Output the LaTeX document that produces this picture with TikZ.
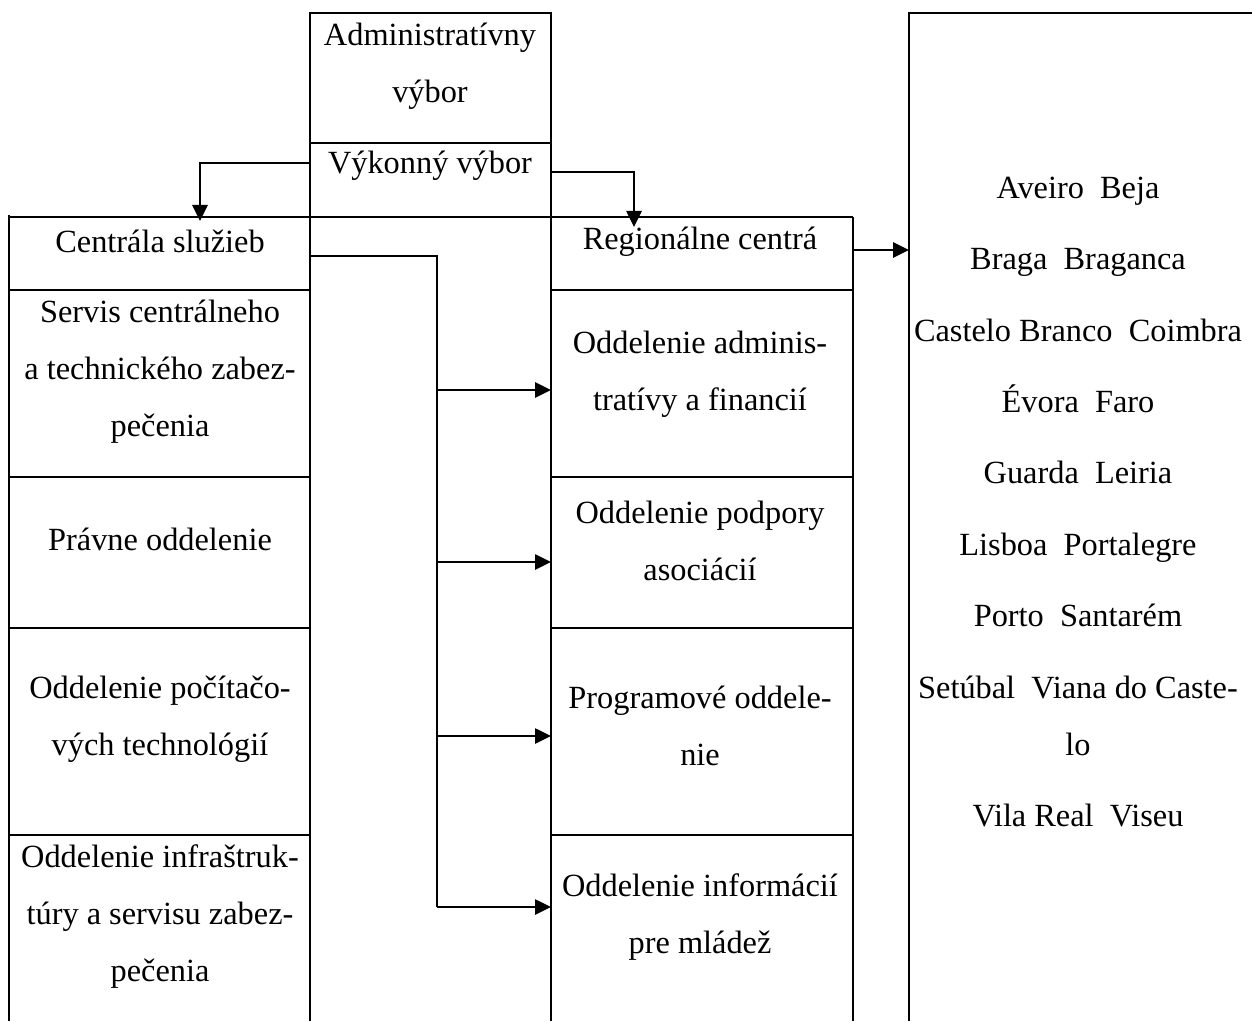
\documentclass[tikz,border=0pt]{standalone}
\usepackage{fontspec}
\setmainfont{Liberation Serif}
\usetikzlibrary{arrows.meta,positioning,calc}
\tikzset{
  cell/.style={align=center, font=\fontsize{9.2}{16.2}\selectfont, inner sep=0pt},
  rule/.style={line width=0.75pt},
  arr/.style={line width=0.75pt, -{Triangle[length=1.6mm,width=1.5mm]}},
}

\begin{document}
\begin{tikzpicture}[x=0.01cm, y=-0.01cm]
        \useasboundingbox (0,0) rectangle (1252,1021);
        % table lines
        \draw[rule] (310,1021) -- (310,13) -- (551,13) -- (551,1021);
        \draw[rule] (310,143) -- (551,143);
        \draw[rule] (9,217) -- (853,217);
        \draw[line width=0.6pt] (9,215) -- (9,1021);
        \draw[rule] (853,217) -- (853,1021);
        \draw[rule] (909,1021) -- (909,13) -- (1252,13);
        \foreach \y in {290,477,628,835} {
          \draw[rule] (9,\y) -- (310,\y);
          \draw[rule] (551,\y) -- (853,\y);
        }
        % cells
        \node[cell] (admin) at (430,66) {Administratívny\\výbor};
        \node[cell] (vykonny) at (430,166) {Výkonný výbor};
        \node[cell] (centrala) at (160,241) {Centrála služieb};
        \node[cell] (servis) at (160,372) {Servis centrálneho\\a technického zabez-\\pečenia};
        \node[cell] (pravne) at (160,539) {Právne oddelenie};
        \node[cell] (pocitac) at (160,719) {Oddelenie počítačo-\\vých technológií};
        \node[cell] (infra) at (160,917) {Oddelenie infraštruk-\\túry a servisu zabez-\\pečenia};
        \node[cell] (regional) at (700,242) {Regionálne centrá};
        \node[cell] (adminfin) at (700,374) {Oddelenie adminis-\\tratívy a financií};
        \node[cell] (podpora) at (700,541) {Oddelenie podpory\\asociácií};
        \node[cell] (program) at (700,726) {Programové oddele-\\nie};
        \node[cell] (info) at (700,917) {Oddelenie informácií\\pre mládež};
        \node[cell] (kraje) at (1078,502) {Aveiro\ \ Beja\\[4.1pt]
          Braga\ \ Braganca\\[4.1pt]
          Castelo Branco\ \ Coimbra\\[4.1pt]
          Évora\ \ Faro\\[4.1pt]
          Guarda\ \ Leiria\\[4.1pt]
          Lisboa\ \ Portalegre\\[4.1pt]
          Porto\ \ Santarém\\[4.1pt]
          Setúbal\ \ Viana do Caste-\\lo\\[4.1pt]
          Vila Real\ \ Viseu};
        % connectors
        \coordinate (vykW) at (310,163);
        \coordinate (vykE) at (551,172);
        \coordinate (cenTop) at (200,221);
        \coordinate (regTop) at (634,227);
        \coordinate (cenE) at (310,256);
        \coordinate (busEnd) at (437,907);
        \coordinate (regE) at (853,250);
        \coordinate (krajW) at (909,250);
        \draw[arr] (vykW) -| (cenTop);
        \draw[arr] (vykE) -| (regTop);
        \draw[rule] (cenE) -| (busEnd);
        \foreach \y in {390,562,736,907}
          \draw[arr] (437,\y) -- (551,\y);
        \draw[arr] (regE) -- (krajW);
\end{tikzpicture}
\end{document}
